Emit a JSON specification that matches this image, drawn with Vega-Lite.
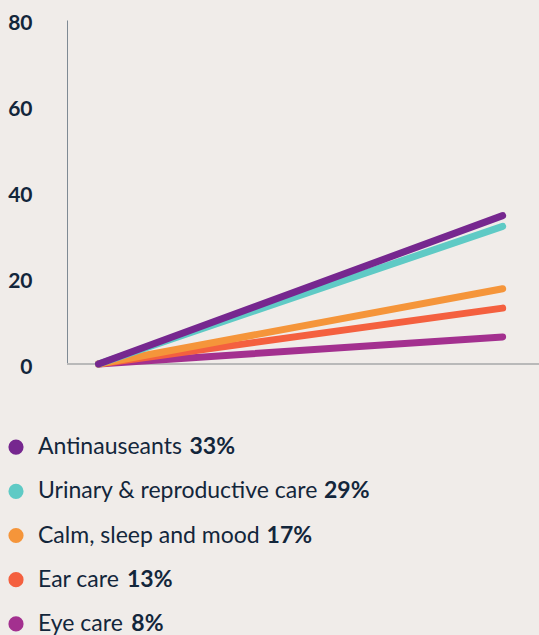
{
  "$schema": "https://vega.github.io/schema/vega-lite/v6.json",
  "background": "#f0ece9",
  "padding": {"left": 7, "top": 12, "right": 0, "bottom": 0},
  "config": {"view": {"stroke": null}, "font": "Lato", "concat": {"spacing": 47}},
  "datasets": {
    "lines": [
      {"cat": "Eye care", "t": 0, "v": 0},
      {"cat": "Eye care", "t": 1, "v": 6.3},
      {"cat": "Ear care", "t": 0, "v": 0},
      {"cat": "Ear care", "t": 1, "v": 13},
      {"cat": "Calm, sleep and mood", "t": 0, "v": 0},
      {"cat": "Calm, sleep and mood", "t": 1, "v": 17.5},
      {"cat": "Urinary & reproductive care", "t": 0, "v": 0},
      {"cat": "Urinary & reproductive care", "t": 1, "v": 32},
      {"cat": "Antinauseants", "t": 0, "v": 0},
      {"cat": "Antinauseants", "t": 1, "v": 34.5}
    ],
    "legend": [
      {"cat": "Antinauseants", "pct": "33%"},
      {"cat": "Urinary & reproductive care", "pct": "29%"},
      {"cat": "Calm, sleep and mood", "pct": "17%"},
      {"cat": "Ear care", "pct": "13%"},
      {"cat": "Eye care", "pct": "8%"}
    ]
  },
  "resolve": {"scale": {"color": "shared"}},
  "vconcat": [
    {
      "width": 472,
      "height": 344,
      "data": {"name": "lines"},
      "layer": [
        {
          "mark": {"type": "rule", "color": "#b9b9b9", "strokeWidth": 2},
          "encoding": {"y": {"datum": 0, "type": "quantitative"}}
        },
        {
          "mark": {"type": "line", "strokeWidth": 7, "strokeCap": "round"},
          "encoding": {
            "x": {"field": "t", "type": "quantitative", "scale": {"domain": [-0.078, 1.09], "nice": false, "zero": false}, "axis": null},
            "y": {
              "field": "v", "type": "quantitative",
              "scale": {"domain": [0, 80], "nice": false},
              "axis": {
                "values": [0, 20, 40, 60, 80], "title": null, "ticks": false,
                "labelPadding": 35, "labelFont": "Lato", "labelFontSize": 21,
                "labelFontWeight": "bold", "labelColor": "#13263b", "labelOffset": 3,
                "domainColor": "#7f8a94", "gridColor": "#d3d1ce"
              }
            },
            "color": {
              "field": "cat", "type": "nominal", "legend": null,
              "scale": {
                "domain": ["Antinauseants", "Urinary & reproductive care", "Calm, sleep and mood", "Ear care", "Eye care"],
                "range": ["#76278f", "#5fcac5", "#f5953a", "#f4603f", "#a3308f"]
              }
            },
            "order": {"field": "t"}
          }
        }
      ]
    },
    {
      "width": 460,
      "height": 221,
      "data": {"name": "legend"},
      "transform": [
        {"calculate": "length(datum.cat)", "as": "n"},
        {"calculate": "datum.n - length(replace(datum.cat, regexp('[il,.j]', 'g'), ''))", "as": "tiny"},
        {"calculate": "datum.n - length(replace(datum.cat, regexp('[rtf]', 'g'), ''))", "as": "mid"},
        {"calculate": "datum.n - length(replace(datum.cat, regexp(' ', 'g'), ''))", "as": "sp"},
        {"calculate": "datum.n - length(replace(datum.cat, regexp('[mw&]', 'g'), ''))", "as": "wide"},
        {"calculate": "(datum.n - datum.tiny - datum.mid - datum.sp - datum.wide) * 12.3 + datum.tiny * 5.5 + datum.mid * 8 + datum.sp * 4.5 + datum.wide * 22", "as": "w"}
      ],
      "encoding": {
        "y": {"field": "cat", "type": "nominal", "sort": null, "axis": null}
      },
      "layer": [
        {
          "mark": {"type": "point", "filled": true, "opacity": 1, "shape": "circle", "size": 230},
          "encoding": {
            "x": {"value": -51},
            "color": {"field": "cat", "type": "nominal", "legend": null}
          }
        },
        {
          "mark": {"type": "text", "align": "left", "baseline": "middle", "fontSize": 23, "font": "Lato", "color": "#13263b"},
          "encoding": {
            "x": {"value": -29},
            "text": {"field": "cat"}
          }
        },
        {
          "mark": {"type": "text", "align": "left", "baseline": "middle", "fontSize": 23, "font": "Lato", "fontWeight": "bold", "color": "#13263b"},
          "encoding": {
            "x": {"field": "w", "type": "quantitative", "scale": {"domain": [0, 400], "range": [-22, 378]}, "axis": null},
            "text": {"field": "pct"}
          }
        }
      ]
    }
  ]
}
